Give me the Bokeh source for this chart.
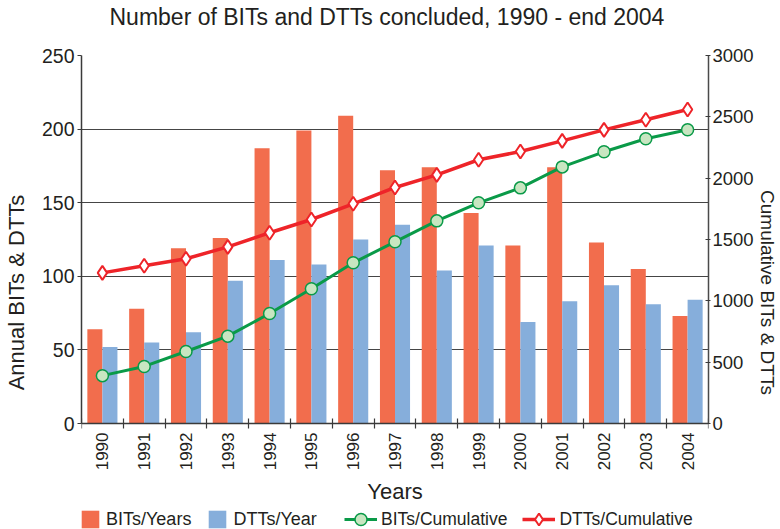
import math
from bokeh.plotting import figure
from bokeh.models import (ColumnDataSource, Range1d, LinearAxis, FixedTicker,
                          Legend, LegendItem)
from bokeh.transform import dodge
from bokeh.embed import file_html
from bokeh.resources import INLINE

# ---------------- data ----------------
years = [1990, 1991, 1992, 1993, 1994, 1995, 1996, 1997, 1998, 1999, 2000, 2001, 2002, 2003, 2004]
bits_per_year = [64, 78, 119, 126, 187, 199, 209, 172, 174, 143, 121, 174, 123, 105, 73]
dtts_per_year = [52, 55, 62, 97, 111, 108, 125, 135, 104, 121, 69, 83, 94, 81, 84]
bits_cumulative = [390, 465, 587, 712, 897, 1098, 1310, 1481, 1652, 1799, 1921, 2092, 2215, 2321, 2394]
dtts_cumulative = [1228, 1286, 1343, 1440, 1555, 1663, 1791, 1924, 2027, 2150, 2217, 2304, 2394, 2476, 2560]
left_ticks = [0, 50, 100, 150, 200, 250]
right_ticks = [0, 500, 1000, 1500, 2000, 2500, 3000]

TITLE = "Number of BITs and DTTs concluded, 1990 - end 2004"
FONT = "Liberation Sans"
TXT = "#231f20"
AX = "#3a3a3a"
ORANGE = "#F26D4D"
BLUE = "#86AEDB"
GREEN = "#0A9A48"
LGREEN = "#C8E6C1"
RED = "#EE2429"

# layout (pixels): plotting band height and the strip below the x axis for labels/legend
PLOT_PX = 368
BELOW_PX = 106
L_MAX, R_MAX = left_ticks[-1], right_ticks[-1]

src = ColumnDataSource(dict(year=years, bits=bits_per_year, dtts=dtts_per_year,
                            bits_cum=bits_cumulative, dtts_cum=dtts_cumulative))

p = figure(frame_width=627, frame_height=PLOT_PX + BELOW_PX,
           x_range=Range1d(years[0] - 0.5, years[-1] + 0.5),
           y_range=Range1d(-L_MAX * BELOW_PX / PLOT_PX, L_MAX),
           min_border_left=75, min_border_right=78, min_border_top=55, min_border_bottom=0,
           output_backend="svg", toolbar_location=None, title=TITLE + "\n")
p.outline_line_color = None
p.background_fill_color = "white"
p.border_fill_color = "white"

p.title.text_font = FONT
p.title.text_font_size = "23px"
p.title.text_font_style = "normal"
p.title.text_color = TXT
p.title.align = "left"
p.title.offset = 28
p.title.standoff = 0
p.title.text_line_height = 1.0

# x axis, drawn at y = 0
boundaries = [y - 0.5 for y in years] + [years[-1] + 0.5]
p.xaxis.fixed_location = 0
p.xaxis.ticker = FixedTicker(ticks=years, minor_ticks=boundaries)
p.xaxis.major_label_orientation = math.pi / 2
p.xaxis.major_tick_line_color = None
p.xaxis.major_tick_out = 5
p.xaxis.major_tick_in = 0
p.xaxis.minor_tick_in = 5
p.xaxis.minor_tick_out = 5
p.xaxis.minor_tick_line_color = AX
p.xaxis.minor_tick_line_width = 1.2
p.xaxis.major_label_standoff = 4
p.xaxis.major_label_text_font = FONT
p.xaxis.major_label_text_font_size = "17px"
p.xaxis.major_label_text_color = TXT
p.xaxis.axis_label = "Years"
p.xaxis.axis_label_text_font = FONT
p.xaxis.axis_label_text_font_size = "22px"
p.xaxis.axis_label_text_font_style = "normal"
p.xaxis.axis_label_text_color = TXT
p.xaxis.axis_label_standoff = 6
p.xaxis.axis_line_color = AX
p.xaxis.axis_line_width = 1.5
p.xgrid.visible = False

# left axis
p.yaxis.ticker = FixedTicker(ticks=left_ticks)
p.yaxis.bounds = (0, L_MAX)
p.yaxis.major_tick_out = 4
p.yaxis.major_tick_in = 0
p.yaxis.minor_tick_line_color = None
p.yaxis.major_tick_line_color = AX
p.yaxis.major_label_standoff = 3
p.yaxis.major_label_text_font = FONT
p.yaxis.major_label_text_font_size = "19.5px"
p.yaxis.major_label_text_color = TXT
p.yaxis.axis_line_color = AX
p.yaxis.axis_line_width = 1.5
p.yaxis.axis_label = "Annual BITs & DTTs"
p.yaxis.axis_label_text_font = FONT
p.yaxis.axis_label_text_font_size = "22px"
p.yaxis.axis_label_text_font_style = "normal"
p.yaxis.axis_label_text_color = TXT
p.yaxis.axis_label_standoff = 10
p.ygrid.grid_line_color = "#454545"
p.ygrid.grid_line_width = 1.2

# right axis
p.extra_y_ranges = {"cum": Range1d(-R_MAX * BELOW_PX / PLOT_PX, R_MAX)}
ra = LinearAxis(y_range_name="cum", ticker=FixedTicker(ticks=right_ticks), bounds=(0, R_MAX))
ra.major_tick_in = 3
ra.major_tick_out = 2
ra.minor_tick_line_color = None
ra.major_tick_line_color = AX
ra.major_label_standoff = 2
ra.major_label_text_font = FONT
ra.major_label_text_font_size = "18.5px"
ra.major_label_text_color = TXT
ra.axis_line_color = "#4a4a4a"
ra.axis_line_width = 1.5
ra.axis_label = "Cumulative BITs & DTTs"
ra.axis_label_text_font = FONT
ra.axis_label_text_font_size = "19px"
ra.axis_label_text_font_style = "normal"
ra.axis_label_text_color = TXT
ra.axis_label_standoff = 0
p.add_layout(ra, "right")

# glyphs
r_bits = p.vbar(x=dodge("year", -0.18), top="bits", width=0.36, source=src,
                fill_color=ORANGE, line_color=None)
r_dtts = p.vbar(x=dodge("year", 0.18), top="dtts", width=0.36, source=src,
                fill_color=BLUE, line_color=None)
l_bits = p.line("year", "bits_cum", y_range_name="cum", source=src,
                line_color=GREEN, line_width=3)
m_bits = p.scatter("year", "bits_cum", y_range_name="cum", source=src, marker="circle",
                   size=12, fill_color=LGREEN, line_color=GREEN, line_width=1.5)
l_dtts = p.line("year", "dtts_cum", y_range_name="cum", source=src,
                line_color=RED, line_width=3.5)
m_dtts = p.scatter("year", "dtts_cum", y_range_name="cum", source=src, marker="diamond",
                   size=14, fill_color="white", line_color=RED, line_width=2)

# legends (inside the strip under the x axis)
common = dict(orientation="horizontal", padding=0, margin=0, border_line_color=None,
              background_fill_alpha=0, label_text_font=FONT, label_text_color=TXT)
leg1 = Legend(items=[LegendItem(label="BITs/Years", renderers=[r_bits]),
                     LegendItem(label="DTTs/Year", renderers=[r_dtts])],
              location=(-2, -1), glyph_width=22, glyph_height=22, label_height=22,
              label_standoff=5, spacing=15, label_text_font_size="18px", **common)
leg2 = Legend(items=[LegendItem(label="BITs/Cumulative", renderers=[l_bits, m_bits]),
                     LegendItem(label="DTTs/Cumulative", renderers=[l_dtts, m_dtts])],
              location=(263, -5), glyph_width=33, glyph_height=30, label_height=30,
              label_standoff=4, spacing=15, label_text_font_size="17.5px", **common)
p.add_layout(leg1)
p.add_layout(leg2)

open("out.html", "w").write(file_html(p, INLINE))
